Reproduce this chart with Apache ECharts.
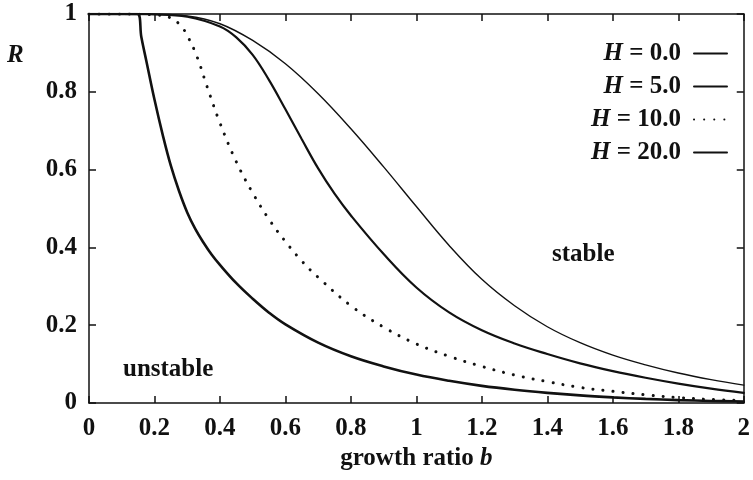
<!DOCTYPE html>
<html><head><meta charset="utf-8">
<script src="https://cdn.jsdelivr.net/npm/echarts@6/dist/echarts.min.js"></script>
<style>html,body{margin:0;padding:0;background:#fff}#c{width:753px;height:480px}</style>
</head><body><div id="c"></div>
<script>
// ---- data ----
const seriesNames = ['H = 0.0', 'H = 5.0', 'H = 10.0', 'H = 20.0'];

const h0X = [0, 0.1, 0.2, 0.3, 0.4, 0.5, 0.6, 0.7, 0.8, 0.9, 1.0, 1.1, 1.2, 1.3, 1.4, 1.5, 1.6, 1.7, 1.8, 1.9, 2.0];
const h0Y = [1, 1, 0.999, 0.995, 0.975, 0.932, 0.872, 0.795, 0.705, 0.607, 0.505, 0.405, 0.318, 0.25, 0.196, 0.155, 0.123, 0.098, 0.077, 0.06, 0.046];

const h5X = [0, 0.1, 0.2, 0.3, 0.4, 0.45, 0.5, 0.55, 0.6, 0.65, 0.7, 0.75, 0.8, 0.9, 1.0, 1.1, 1.2, 1.3, 1.4, 1.5, 1.6, 1.7, 1.8, 1.9, 2.0];
const h5Y = [1, 1, 0.999, 0.993, 0.968, 0.94, 0.895, 0.83, 0.755, 0.678, 0.603, 0.538, 0.482, 0.383, 0.297, 0.233, 0.187, 0.153, 0.126, 0.102, 0.082, 0.065, 0.05, 0.037, 0.026];

const h10X = [0, 0.1, 0.2, 0.25, 0.28, 0.3, 0.33, 0.36, 0.4, 0.45, 0.5, 0.55, 0.6, 0.65, 0.7, 0.8, 0.9, 1.0, 1.1, 1.2, 1.3, 1.4, 1.5, 1.6, 1.7, 1.8, 1.9, 2.0];
const h10Y = [1, 1, 0.998, 0.99, 0.97, 0.945, 0.89, 0.815, 0.72, 0.62, 0.54, 0.472, 0.415, 0.365, 0.323, 0.25, 0.195, 0.152, 0.12, 0.094, 0.072, 0.055, 0.04, 0.03, 0.021, 0.014, 0.009, 0.006];

const h20X = [0, 0.1, 0.148, 0.16, 0.175, 0.2, 0.225, 0.25, 0.275, 0.3, 0.325, 0.35, 0.375, 0.4, 0.45, 0.5, 0.55, 0.6, 0.7, 0.8, 0.9, 1.0, 1.1, 1.2, 1.3, 1.4, 1.5, 1.6, 1.7, 1.8, 1.9, 2.0];
const h20Y = [1, 1, 1, 0.94, 0.88, 0.78, 0.69, 0.61, 0.545, 0.49, 0.447, 0.412, 0.381, 0.355, 0.308, 0.268, 0.232, 0.202, 0.155, 0.12, 0.094, 0.073, 0.057, 0.044, 0.034, 0.026, 0.0195, 0.0145, 0.0105, 0.0075, 0.0053, 0.0037];

const xMin = 0, xMax = 2, xStep = 0.2;
const yMin = 0, yMax = 1, yStep = 0.2;
const xTitle = 'growth ratio ';
const xTitleVar = 'b';
const yTitle = 'R';
const regionLabels = ['stable', 'unstable'];

// ---- chart ----
const ink = '#111';
const FONT = '"Liberation Serif", "Times New Roman", serif';
const zip = (xs, ys) => xs.map((x, i) => [x, ys[i]]);

const chart = echarts.init(document.getElementById('c'), null, {renderer: 'canvas'});

const axisCommon = {
  type: 'value',
  axisLine: {show: true, onZero: false, lineStyle: {color: ink, width: 1.5}},
  axisTick: {show: true, inside: true, length: 7, lineStyle: {color: ink, width: 1.5}},
  splitLine: {show: false}
};
const labelStyle = {color: ink, fontFamily: FONT, fontSize: 25, fontWeight: 'bold'};

const lineSeries = (name, data, width, type) => ({
  name, type: 'line', data, xAxisIndex: 0, yAxisIndex: 0,
  showSymbol: false, symbol: 'none', smooth: 0.4,
  lineStyle: {color: ink, width, type: type || 'solid', cap: 'round'},
  itemStyle: {color: ink, opacity: 0},
  emphasis: {disabled: true}, silent: true, animation: false
});

chart.setOption({
  backgroundColor: '#fff',
  animation: false,
  grid: {left: 89, right: 2, top: 14, bottom: 77, containLabel: false},
  xAxis: [
    Object.assign({}, axisCommon, {
      position: 'bottom', min: xMin, max: xMax, interval: xStep,
      axisLabel: Object.assign({margin: 13}, labelStyle),
      name: '{t|' + xTitle + '}{v|' + xTitleVar + '}',
      nameLocation: 'middle', nameGap: 37,
      nameTextStyle: {rich: {
        t: Object.assign({}, labelStyle),
        v: Object.assign({}, labelStyle, {fontStyle: 'italic'})
      }}
    }),
    Object.assign({}, axisCommon, {
      position: 'top', min: xMin, max: xMax, interval: xStep,
      axisLabel: {show: false}
    })
  ],
  yAxis: [
    Object.assign({}, axisCommon, {
      position: 'left', min: yMin, max: yMax, interval: yStep,
      axisLabel: Object.assign({margin: 12}, labelStyle)
    }),
    Object.assign({}, axisCommon, {
      position: 'right', min: yMin, max: yMax, interval: yStep,
      axisLabel: {show: false}
    })
  ],
  legend: {
    show: true, orient: 'vertical', align: 'right', padding: 0,
    right: 25, top: 37, itemGap: 0, itemWidth: 33, itemHeight: 14,
    selectedMode: false,
    data: seriesNames,
    itemStyle: {opacity: 0, borderWidth: 0},
    formatter: n => '{i|H}{t|' + n.slice(1) + '}',
    textStyle: {
      color: ink, fontFamily: FONT, fontSize: 25, lineHeight: 33,
      rich: {
        i: {fontFamily: FONT, fontSize: 25, fontWeight: 'bold', fontStyle: 'italic', color: ink, lineHeight: 33},
        t: {fontFamily: FONT, fontSize: 25, fontWeight: 'bold', color: ink, lineHeight: 33, padding: [0, 8, 0, 0]}
      }
    }
  },
  graphic: [
    {type: 'text', left: 7, top: 43, style: {text: yTitle, fill: ink, font: 'italic bold 25px ' + FONT}},
    {type: 'text', left: 552, top: 242, style: {text: regionLabels[0], fill: ink, font: 'bold 25px ' + FONT}},
    {type: 'text', left: 123, top: 357, style: {text: regionLabels[1], fill: ink, font: 'bold 25px ' + FONT}}
  ],
  series: [
    lineSeries(seriesNames[0], zip(h0X, h0Y), 1.4),
    lineSeries(seriesNames[1], zip(h5X, h5Y), 2.2),
    lineSeries(seriesNames[2], zip(h10X, h10Y), 3, [0.1, 10]),
    lineSeries(seriesNames[3], zip(h20X, h20Y), 2.6)
  ]
});
</script>
</body></html>
